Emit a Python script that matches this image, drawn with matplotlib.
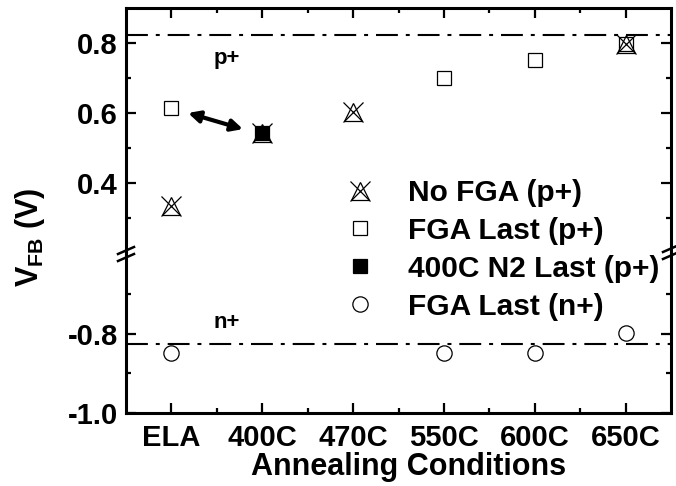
import matplotlib
matplotlib.use("Agg")
import matplotlib.pyplot as plt
from matplotlib.lines import Line2D
from matplotlib.legend_handler import HandlerTuple

plt.rcParams['font.family'] = ['Liberation Sans', 'DejaVu Sans']
plt.rcParams['font.weight'] = 'bold'
plt.rcParams['mathtext.fontset'] = 'custom'
plt.rcParams['mathtext.rm'] = 'Liberation Sans:bold'
plt.rcParams['mathtext.bf'] = 'Liberation Sans:bold'
plt.rcParams['mathtext.it'] = 'Liberation Sans:bold'

# ---- data ----
categories = ['ELA', '400C', '470C', '550C', '600C', '650C']
no_fga_cats = ['ELA', '400C', '470C', '650C']
no_fga_vals = [0.335, 0.543, 0.603, 0.797]
fga_p_cats = ['ELA', '550C', '600C', '650C']
fga_p_vals = [0.614, 0.70, 0.751, 0.797]
n2_cats = ['400C']
n2_vals = [0.544]
fga_n_cats = ['ELA', '550C', '600C', '650C']
fga_n_vals = [-0.848, -0.848, -0.848, -0.797]
p_ref = 0.823
n_ref = -0.825

pos = {c: i + 1 for i, c in enumerate(categories)}

W, H = 676, 486
fig = plt.figure(figsize=(W / 100, H / 100), dpi=100)
left_px, right_px, top_px, split_px, bot_px = 126, 671, 8, 253, 413
ax_top = fig.add_axes([left_px / W, (H - split_px) / H, (right_px - left_px) / W, (split_px - top_px) / H])
ax_bot = fig.add_axes([left_px / W, (H - bot_px) / H, (right_px - left_px) / W, (bot_px - split_px) / H])

ax_top.set_ylim(0.2, 0.9)
ax_bot.set_ylim(-1.0, -0.595)
for ax in (ax_top, ax_bot):
    ax.set_xlim(0.5, 6.5)
    for s in ax.spines.values():
        s.set_linewidth(2.2)
    ax.tick_params(which='major', direction='in', length=7, width=1.6, labelsize=21, pad=6)
    ax.tick_params(which='minor', direction='in', length=3.5, width=1.6)
    ax.set_xticks(range(1, 7))
    ax.set_xticks([i + 0.5 for i in range(1, 6)], minor=True)

ax_top.spines['bottom'].set_visible(False)
ax_bot.spines['top'].set_visible(False)
ax_top.tick_params(which='both', bottom=False, top=True, labelbottom=False, left=True, right=True)
ax_bot.tick_params(which='both', bottom=True, top=False, left=True, right=True)
ax_bot.tick_params(axis='x', which='major', pad=8)
ax_bot.set_xticklabels(categories, fontweight='bold')
ax_top.set_yticks([0.4, 0.6, 0.8])
ax_top.set_yticks([0.3, 0.5, 0.7], minor=True)
ax_top.set_yticklabels(['0.4', '0.6', '0.8'], fontweight='bold')
ax_bot.set_yticks([-1.0, -0.8])
ax_bot.set_yticks([-0.9, -0.7], minor=True)
ax_bot.set_yticklabels(['-1.0', '-0.8'], fontweight='bold')

dash = (0, (10.5, 3.8, 1.9, 3.8))
ax_top.axhline(p_ref, color='black', lw=1.5, linestyle=dash)
ax_bot.axhline(n_ref, color='black', lw=1.5, linestyle=dash)

# markers
xf = [pos[c] for c in fga_p_cats]
ax_top.plot(xf, fga_p_vals, 's', ms=10, mfc='white', mec='black', mew=0.9, zorder=3)
xn = [pos[c] for c in no_fga_cats]
ax_top.plot(xn, no_fga_vals, '^', ms=13, mfc='none', mec='black', mew=0.9, zorder=4)
ax_top.plot(xn, no_fga_vals, 'x', ms=15, mec='black', mew=0.9, zorder=4)
x2 = [pos[c] for c in n2_cats]
ax_top.plot(x2, n2_vals, 's', ms=10, mfc='black', mec='black', mew=0.9, zorder=5)
xc = [pos[c] for c in fga_n_cats]
ax_bot.plot(xc, fga_n_vals, 'o', ms=11, mfc='white', mec='black', mew=0.9, zorder=3)

# annotations
ax_top.annotate('', xy=(1.183, 0.600), xytext=(1.788, 0.554),
                arrowprops=dict(arrowstyle='<|-|>', color='black', lw=3, mutation_scale=17,
                                shrinkA=0, shrinkB=0))
ax_top.text(1.612, 0.757, 'p+', fontsize=16, fontweight='bold', ha='center', va='center')
ax_bot.text(1.612, -0.772, 'n+', fontsize=16, fontweight='bold', ha='center', va='center')

# break marks
def brk(xp, yp):
    for dy in (-3.5, 3.5):
        fig.add_artist(Line2D([(xp - 8) / W, (xp + 8) / W],
                              [(H - (yp + dy) - 3.5) / H, (H - (yp + dy) + 3.5) / H],
                              color='black', lw=1.8, transform=fig.transFigure, clip_on=False))
brk(left_px, 254)
brk(right_px, 252)

# labels
fig.text(409 / W, (H - 475) / H, 'Annealing Conditions', fontsize=22, fontweight='bold',
         ha='center', va='baseline')
fig.text(30 / W, (H - 237) / H, r'V$_{\mathrm{FB}}$ (V)', fontsize=22, fontweight='bold',
         rotation=90, ha='center', va='center')

# legend
h_nofga = (Line2D([], [], ls='none', marker='^', ms=13, mfc='none', mec='black', mew=0.9),
           Line2D([], [], ls='none', marker='x', ms=15, mec='black', mew=0.9))
h_fga = Line2D([], [], ls='none', marker='s', ms=10, mfc='white', mec='black', mew=0.9)
h_n2 = Line2D([], [], ls='none', marker='s', ms=10, mfc='black', mec='black', mew=0.9)
h_n = Line2D([], [], ls='none', marker='o', ms=11, mfc='white', mec='black', mew=0.9)
fig.legend([h_nofga, h_fga, h_n2, h_n],
           ['No FGA (p+)', 'FGA Last (p+)', '400C N2 Last (p+)', 'FGA Last (n+)'],
           handler_map={tuple: HandlerTuple(ndivide=1)},
           loc='upper left', bbox_to_anchor=(330 / W, (H - 179) / H),
           frameon=False, borderpad=0, borderaxespad=0, handlelength=2.0,
           handletextpad=0.6, labelspacing=0.33, prop={'size': 21.5, 'weight': 'bold'})

fig.savefig('out.png', dpi=100)
